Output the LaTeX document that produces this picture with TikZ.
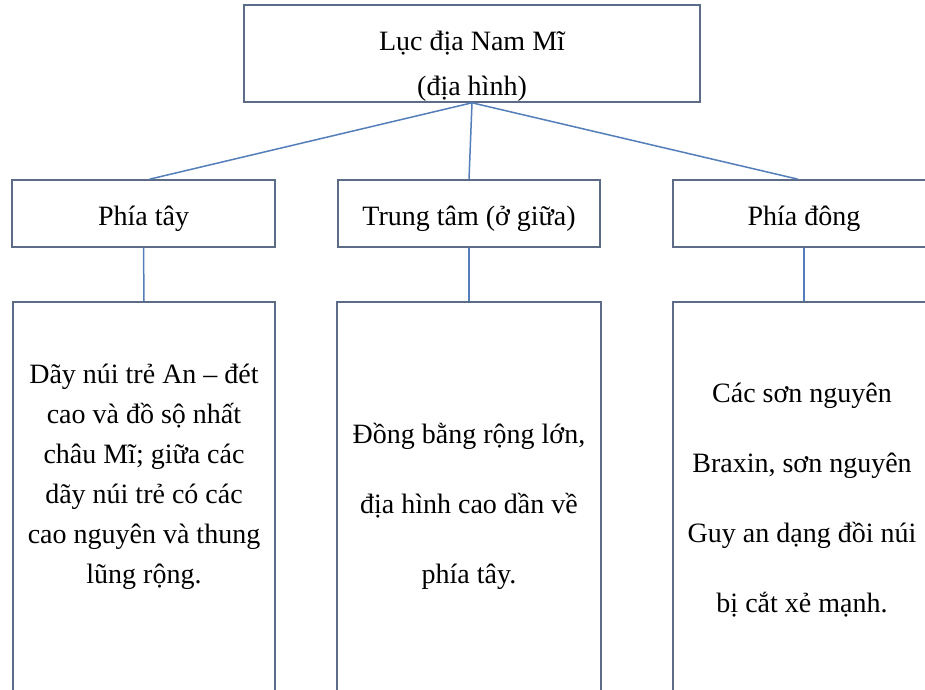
\documentclass[tikz,border=0pt]{standalone}
\usepackage{fontspec}
\setmainfont{Liberation Serif}
\definecolor{boxline}{RGB}{92,108,135}
\definecolor{linkline}{RGB}{84,126,186}
\begin{document}
\begin{tikzpicture}[x=1pt,y=-1pt,
    box/.style={draw=boxline, line width=1.6pt, inner sep=0pt},
    link/.style={draw=linkline, line width=1.5pt},
    txt/.style={align=center, font=\fontsize{28}{40}\selectfont},
    widetxt/.style={align=center, font=\fontsize{28}{70}\selectfont}]
    \useasboundingbox (0,0) rectangle (925,689);
    \clip (0,0) rectangle (925,689);
    % top box
    \node[box, minimum width=456, minimum height=97] (top) at (472,53.5) {};
    \node[align=center, font=\fontsize{28}{45}\selectfont] (toptext) at (472,66) {Lục địa Nam Mĩ\\(địa hình)};
    % second row
    \node[box, minimum width=263, minimum height=67] (west) at (143.5,213.5) {};
    \node[box, minimum width=262, minimum height=67] (centre) at (469,213.5) {};
    \node[box, minimum width=262, minimum height=67] (east) at (804,213.5) {};
    \node[txt] (westtext) at (143.5,219) {Phía tây};
    \node[txt] (centretext) at (469,219) {Trung tâm (ở giữa)};
    \node[txt] (easttext) at (804,219) {Phía đông};
    % third row
    \node[box, minimum width=262, minimum height=428] (westbig) at (144,516) {};
    \node[box, minimum width=264, minimum height=428] (centrebig) at (469,516) {};
    \node[box, minimum width=262, minimum height=428] (eastbig) at (804,516) {};
    \node[txt] (westbigtext) at (144,477) {Dãy núi trẻ An – đét\\cao và đồ sộ nhất\\châu Mĩ; giữa các\\dãy núi trẻ có các\\cao nguyên và thung\\lũng rộng.};
    \node[widetxt] (centrebigtext) at (469,506) {Đồng bằng rộng lớn,\\địa hình cao dần về\\phía tây.};
    \node[widetxt] (eastbigtext) at (802,500) {Các sơn nguyên\\Braxin, sơn nguyên\\Guy an dạng đồi núi\\bị cắt xẻ mạnh.};
    % connectors
    \draw[link] (top.south) -- ([xshift=6pt]west.north);
    \draw[link] (top.south) -- (centre.north);
    \draw[link] (top.south) -- ([xshift=-6pt]east.north);
    \draw[link] (west.south) -- (westbig.north);
    \draw[link] (centre.south) -- (centrebig.north);
    \draw[link] (east.south) -- (eastbig.north);
\end{tikzpicture}
\end{document}
